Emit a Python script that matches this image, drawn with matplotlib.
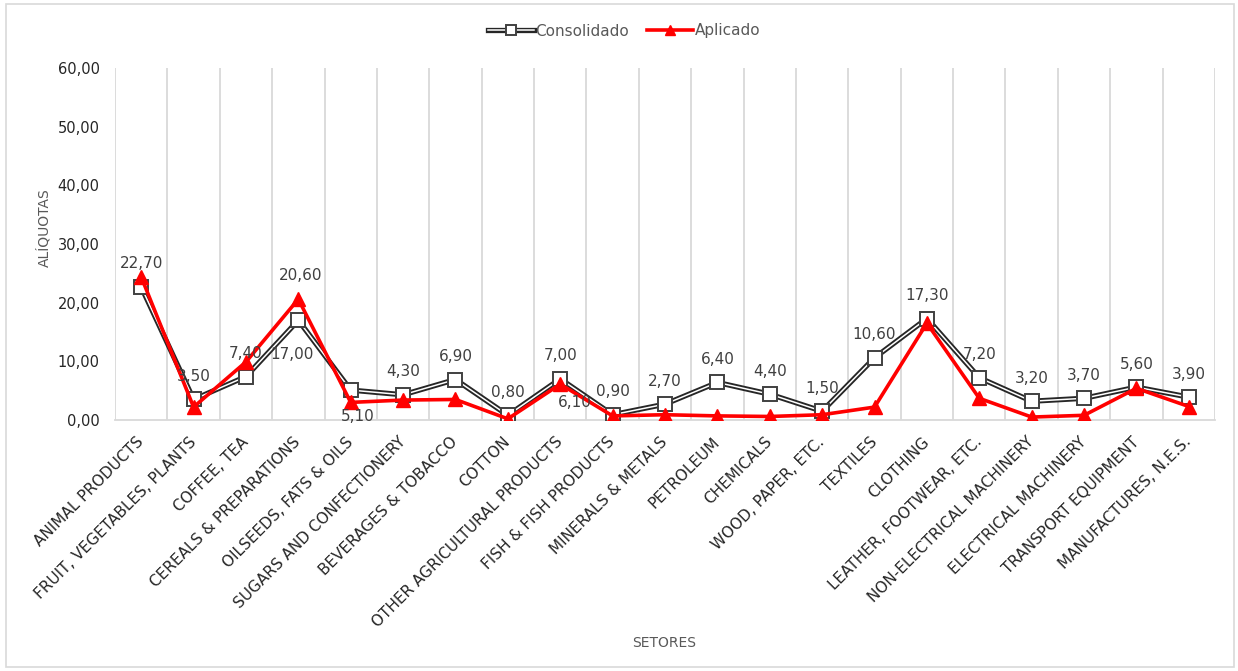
import numpy as np
import matplotlib
matplotlib.use('Agg')
import matplotlib.pyplot as plt
import matplotlib.patheffects as pe
from matplotlib.patches import Rectangle
from matplotlib.ticker import FuncFormatter

# setores e aliquotas
setores = ['ANIMAL PRODUCTS', 'FRUIT, VEGETABLES, PLANTS', 'COFFEE, TEA',
           'CEREALS & PREPARATIONS', 'OILSEEDS, FATS & OILS',
           'SUGARS AND CONFECTIONERY', 'BEVERAGES & TOBACCO', 'COTTON',
           'OTHER AGRICULTURAL PRODUCTS', 'FISH & FISH PRODUCTS',
           'MINERALS & METALS', 'PETROLEUM', 'CHEMICALS', 'WOOD, PAPER, ETC.',
           'TEXTILES', 'CLOTHING', 'LEATHER, FOOTWEAR, ETC.',
           'NON-ELECTRICAL MACHINERY', 'ELECTRICAL MACHINERY',
           'TRANSPORT EQUIPMENT', 'MANUFACTURES, N.E.S.']
consolidado = [22.7, 3.5, 7.4, 17.0, 5.1, 4.3, 6.9, 0.8, 7.0, 0.9, 2.7,
               6.4, 4.4, 1.5, 10.6, 17.3, 7.2, 3.2, 3.7, 5.6, 3.9]
aplicado = [24.4, 2.2, 9.9, 20.6, 3.0, 3.4, 3.5, 0.2, 6.1, 0.7, 0.9,
            0.7, 0.6, 0.9, 2.2, 16.5, 3.7, 0.5, 0.8, 5.4, 2.3]
yticks = [0, 10, 20, 30, 40, 50, 60]

# rotulos extras da serie aplicado (indice)
aplicado_rotulos = [3, 8]

fig = plt.figure(figsize=(12.38, 6.71), dpi=100)
ax = fig.add_axes([115/1238, 1-420/671, 1100/1238, 352/671])
fig.patches.append(Rectangle((6/1238, 4/671), 1228/1238, 663/671, transform=fig.transFigure,
                             fill=False, edgecolor='#d9d9d9', lw=1.2))

x = np.arange(len(setores))
gray = '#404040'

# consolidado: linha dupla (preto por fora, branco por dentro)
l1, = ax.plot(x, consolidado, color='white', lw=1.1, zorder=3,
              path_effects=[pe.Stroke(linewidth=3.8, foreground='#262626'), pe.Normal()])
m1, = ax.plot(x, consolidado, ls='none', marker='s', ms=9.5, mfc='white',
              mec='#404040', mew=1.4, zorder=4)
l2, = ax.plot(x, aplicado, color='#ff0000', lw=2.6, marker='^', ms=9.5,
              mfc='#ff0000', mec='#ff0000', zorder=5)

def fmt(v):
    return '{:.2f}'.format(v).replace('.', ',')

px = 72/100.0
for i, v in enumerate(consolidado):
    dx, dy = 0, 23
    if i == 3:
        dx, dy = -6, -34
    elif i == 4:
        dx, dy = 7, -26
    ax.annotate(fmt(v), (i, v), xytext=(dx*px, dy*px), textcoords='offset points',
                ha='center', va='center', fontsize=11, color=gray, zorder=6)
for i in aplicado_rotulos:
    dx, dy = (2, 24) if i == 3 else (15, -18)
    ax.annotate(fmt(aplicado[i]), (i, aplicado[i]), xytext=(dx*px, dy*px),
                textcoords='offset points', ha='center', va='center',
                fontsize=11, color=gray, zorder=6)

ax.set_xlim(-0.5, len(setores)-0.5)
ax.set_ylim(0, 60)
ax.set_yticks(yticks)
ax.yaxis.set_major_formatter(FuncFormatter(lambda v, p: fmt(v)))
ax.set_xticks(x)
ax.set_xticklabels(setores, rotation=45, ha='right', va='center',
                   rotation_mode='anchor', fontsize=11, color='#262626')
ax.set_xticks(np.arange(-0.5, len(setores)), minor=True)
ax.tick_params(axis='x', which='both', length=0, pad=14)
ax.tick_params(axis='y', length=0, pad=11, labelsize=10.5, labelcolor='#262626')
ax.grid(which='minor', axis='x', color='#d9d9d9', lw=1.3)
for s in ['top', 'left', 'right']:
    ax.spines[s].set_visible(False)
ax.spines['bottom'].set_color('#d9d9d9')
ax.spines['bottom'].set_linewidth(1.3)

fig.text(44/1238, 1-228/671, 'ALÍQUOTAS', fontsize=10, color='#595959',
         rotation=90, ha='center', va='center')
fig.text(664/1238, 1-643/671, 'SETORES', fontsize=10, color='#595959',
         ha='center', va='center')

ax.legend([(l1, m1), l2], ['Consolidado', 'Aplicado'], loc='center',
          bbox_to_anchor=(624/1238, 1-31/671), bbox_transform=fig.transFigure,
          ncol=2, frameon=False, fontsize=11, labelcolor='#595959',
          handlelength=3.0, handletextpad=0.1, columnspacing=1.2, markerscale=0.8)

fig.savefig('out.png', dpi=100)
